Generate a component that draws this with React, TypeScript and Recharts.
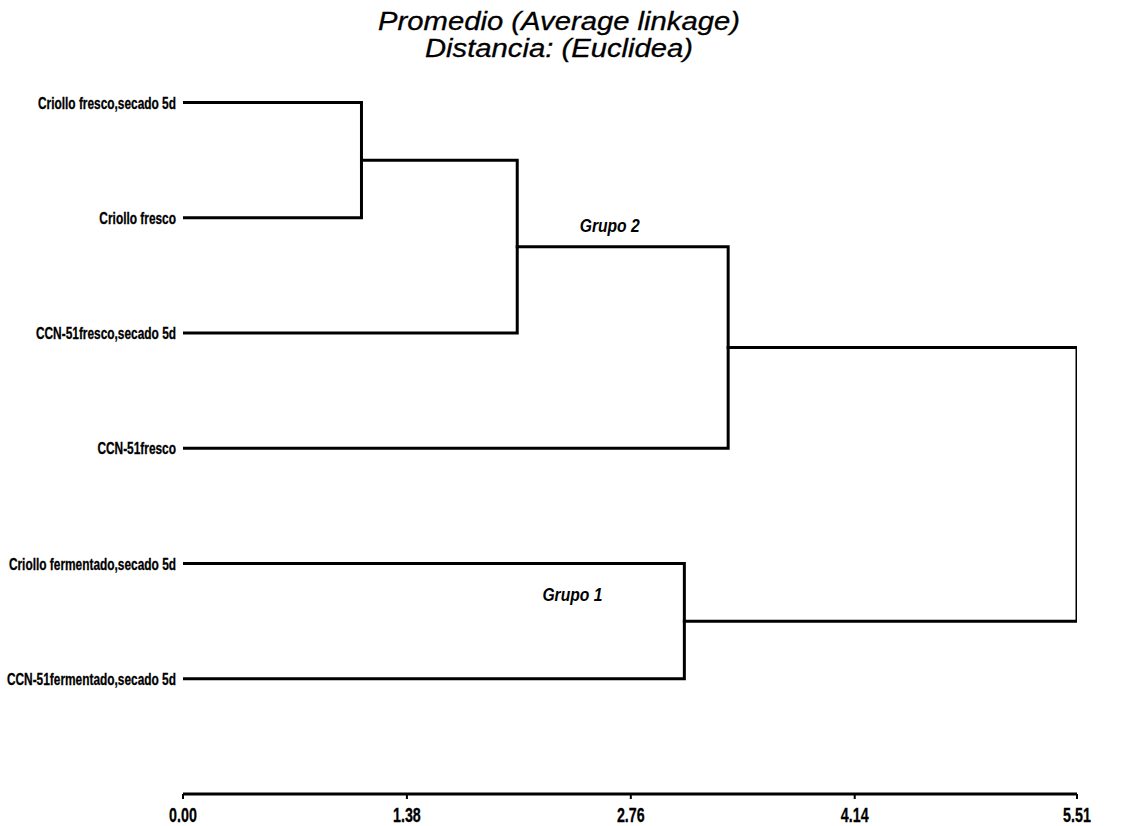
import React from 'react';
import { ComposedChart, Line, Scatter, XAxis, YAxis } from 'recharts';

// Leaves (top to bottom)
const leafLabels = [
  'Criollo fresco,secado 5d',
  'Criollo fresco',
  'CCN-51fresco,secado 5d',
  'CCN-51fresco',
  'Criollo fermentado,secado 5d',
  'CCN-51fermentado,secado 5d',
];
// Merges: node ids 0..5 are leaves, 6.. are merges in order
const mergeA = [0, 6, 7, 4, 8];
const mergeB = [1, 2, 3, 5, 9];
const mergeHeights = [1.1, 2.06, 3.36, 3.09, 5.51];

const xTicks = [0, 1.38, 2.76, 4.14, 5.51];

const groupNames = ['Grupo 2', 'Grupo 1'];
const groupX = [2.63, 2.4];
const groupY = [2.07, 5.27];

const titleLines = ['Promedio (Average linkage)', 'Distancia: (Euclidea)'];

type Node = { x: number; y: number };

function buildSegments() {
  const nodes: Node[] = leafLabels.map((_, i) => ({ x: 0, y: i + 1 }));
  const paths: { x: number; y: number }[][] = [];
  mergeHeights.forEach((h, i) => {
    const a = nodes[mergeA[i]];
    const b = nodes[mergeB[i]];
    paths.push([
      { x: a.x, y: a.y },
      { x: h, y: a.y },
      { x: h, y: b.y },
      { x: b.x, y: b.y },
    ]);
    nodes.push({ x: h, y: (a.y + b.y) / 2 });
  });
  return paths;
}

const paths = buildSegments();
const groupData = groupNames.map((name, i) => ({ x: groupX[i], y: groupY[i], name }));
const leafTicks = leafLabels.map((_, i) => i + 1);

const LeafTick = (props: any) => {
  const { x, y, payload } = props;
  const label = leafLabels[payload.value - 1];
  return (
    <g transform={`translate(${x},${y})`}>
      <text
        transform="scale(0.7,1)"
        textAnchor="end"
        dy="0.36em"
        fontFamily="'Liberation Sans', Arial, sans-serif"
        fontWeight="bold"
        fontSize={17}
        stroke="#000"
        strokeWidth={0.3}
        fill="#000"
      >
        {label}
      </text>
    </g>
  );
};

const XTick = (props: any) => {
  const { x, y, payload } = props;
  return (
    <g transform={`translate(${x},${y})`}>
      <text
        transform="scale(0.68,1)"
        textAnchor="middle"
        y={23}
        fontFamily="'Liberation Sans', Arial, sans-serif"
        fontWeight="bold"
        fontSize={21}
        stroke="#000"
        strokeWidth={0.3}
        fill="#000"
      >
        {Number(payload.value).toFixed(2)}
      </text>
    </g>
  );
};

const GroupLabel = (props: any) => {
  const { cx, cy, payload } = props;
  return (
    <g transform={`translate(${cx},${cy})`}>
      <text
        transform="scale(0.87,1)"
        textAnchor="middle"
        dy="0.36em"
        fontFamily="'Liberation Sans', Arial, sans-serif"
        fontWeight="bold"
        fontStyle="italic"
        fontSize={18}
        fill="#000"
      >
        {payload.name}
      </text>
    </g>
  );
};

export default function App() {
  return (
    <div style={{ position: 'absolute', left: 0, top: 0, width: 1124, height: 826, background: '#fff' }}>
      <svg width={1124} height={70} style={{ position: 'absolute', left: 0, top: 0 }}>
        {titleLines.map((t, i) => (
          <g key={t} transform={`translate(559,${30 + i * 27}) scale(1.17,1)`}>
            <text
              textAnchor="middle"
              fontFamily="'Liberation Sans', Arial, sans-serif"
              fontStyle="italic"
              fontSize={25}
              stroke="#000"
              strokeWidth={0.3}
              fill="#000"
            >
              {t}
            </text>
          </g>
        ))}
      </svg>
      <div style={{ position: 'absolute', left: 0, top: 0 }}>
        <ComposedChart
          width={1124}
          height={826}
          margin={{ top: 45, right: 47, bottom: 0, left: 0 }}
        >
          <XAxis
            type="number"
            dataKey="x"
            domain={[0, 5.51]}
            ticks={xTicks}
            interval={0}
            allowDataOverflow
            height={32}
            axisLine={{ stroke: '#000', strokeWidth: 3 }}
            tickLine={{ stroke: '#000', strokeWidth: 2 }}
            tickSize={5}
            tickMargin={0}
            tick={<XTick />}
          />
          <YAxis
            type="number"
            dataKey="y"
            domain={[0.5, 7]}
            reversed
            ticks={leafTicks}
            interval={0}
            allowDataOverflow
            width={183}
            axisLine={false}
            tickLine={false}
            tickSize={0}
            tickMargin={7}
            tick={<LeafTick />}
          />
          {paths.map((p, i) => (
            <Line
              key={i}
              data={p}
              dataKey="y"
              type="linear"
              stroke="#000"
              strokeWidth={3}
              dot={false}
              activeDot={false}
              isAnimationActive={false}
              strokeLinecap="square"
              strokeLinejoin="miter"
            />
          ))}
          <Scatter data={groupData} dataKey="y" shape={<GroupLabel />} isAnimationActive={false} />
        </ComposedChart>
      </div>
    </div>
  );
}
